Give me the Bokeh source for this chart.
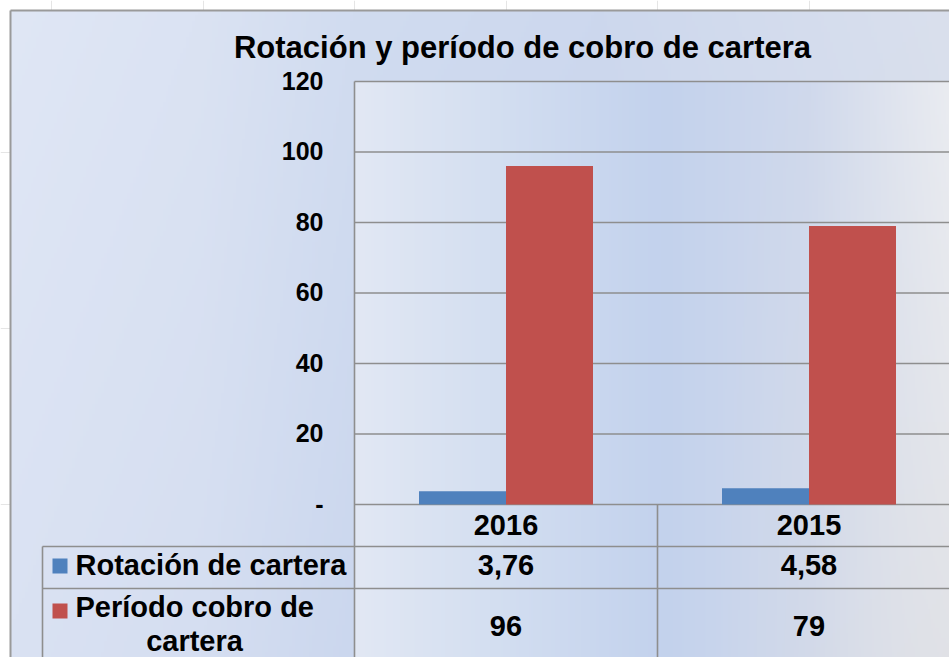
import numpy as np
from bokeh.plotting import figure
from bokeh.models import Range1d
from bokeh.core.properties import value
from bokeh.embed import file_html
from bokeh.resources import INLINE

# ---------------- data ----------------
title = "Rotación y período de cobro de cartera"
categories = ["2016", "2015"]
series_names = ["Rotación de cartera", "Período cobro de cartera"]
rotacion = [3.76, 4.58]
periodo = [96, 79]
rotacion_labels = ["3,76", "4,58"]
periodo_labels = ["96", "79"]
y_ticks = [0, 20, 40, 60, 80, 100, 120]
y_tick_labels = ["-", "20", "40", "60", "80", "100", "120"]
series_colors = ["#4f81bd", "#c0504d"]

# ---------------- layout (pixels in figure) ----------------
W, H = 949, 657
X0 = 354           # left edge of plot area
CAT_PX = 303       # width of one category
Y0 = 504           # pixel row of value 0
Y_PX = 423 / 120   # pixels per value unit
TXT_SHIFT = 10     # baseline correction (px)


def fx(px):
    return (px - X0) / CAT_PX


def fy(py):
    return (Y0 - py) / Y_PX


def fyt(py):
    # text baseline position
    return fy(py - TXT_SHIFT)


FONT = value("Liberation Sans")
LINE = "#8e8e8e"

p = figure(width=W, height=H,
           x_range=Range1d(fx(0), fx(W)), y_range=Range1d(fy(H), fy(0)),
           output_backend="svg", toolbar_location=None,
           x_axis_location=None, y_axis_location=None, min_border=0)
p.outline_line_color = None
p.background_fill_color = "white"
p.border_fill_color = "white"


def gradient(xa, xb, ya, yb, fn, nx=320, ny=120):
    xs = np.linspace(xa, xb, nx)
    ys = np.linspace(yb, ya, ny)  # row 0 is bottom
    XX, YY = np.meshgrid(xs, ys)
    r, g, b = fn(XX, YY)
    img = np.empty((ny, nx), dtype=np.uint32)
    v = img.view(dtype=np.uint8).reshape((ny, nx, 4))
    v[..., 0] = np.clip(r, 0, 255)
    v[..., 1] = np.clip(g, 0, 255)
    v[..., 2] = np.clip(b, 0, 255)
    v[..., 3] = 255
    p.image_rgba(image=[img], x=fx(xa), y=fy(yb), dw=fx(xb) - fx(xa), dh=fy(ya) - fy(yb))


def interp_stops(X, stops_x, cols):
    cols = np.array(cols, dtype=float)
    return [np.interp(X, stops_x, cols[:, k]) for k in range(3)]


def chart_bg(X, Y):
    r, g, b = interp_stops(X, [0, 200, 354, 600, 949],
                          [(224, 231, 245), (219, 227, 243), (209, 220, 240), (205, 216, 238), (218, 224, 237)])
    t = Y / H
    return r - 6 * t, g - 5 * t, b - 2 * t


def plot_bg(X, Y):
    r, g, b = interp_stops(X, [354, 490, 660, 810, 949],
                          [(226, 232, 244), (212, 223, 241), (195, 210, 237), (208, 217, 236), (234, 236, 241)])
    t = np.clip((Y - 81) / (H - 81), 0, 1)
    gray = np.clip((X - 710) / 239, 0, 1) * t
    r = r + (218 - r) * gray * 0.6
    g = g + (219 - g) * gray * 0.6
    b = b + (224 - b) * gray * 0.6
    return r, g, b


gradient(10, W, 10, H, chart_bg)
gradient(X0, W, 81, H, plot_bg)

# chart border
p.segment(x0=[fx(10), fx(10)], y0=[fy(10), fy(10)], x1=[fx(10), fx(W)], y1=[fy(H), fy(10)],
          line_color="#9a9a9a", line_width=2)

# gridlines
p.segment(x0=[0] * len(y_ticks), y0=y_ticks, x1=[fx(W)] * len(y_ticks), y1=y_ticks,
          line_color=LINE, line_width=1.6)
# plot left line
p.segment(x0=[0], y0=[max(y_ticks)], x1=[0], y1=[fy(H)], line_color=LINE, line_width=1.6)

# tick labels
p.text(x=[fx(323)] * len(y_ticks), y=[t - (9 - TXT_SHIFT) / Y_PX for t in y_ticks], text=y_tick_labels,
       text_font=FONT, text_font_size="25px", text_font_style="bold", text_color="black",
       text_align="right", text_baseline="alphabetic")

# bars
n = len(categories)
bw = 87 / CAT_PX
centers = [i + 0.5 for i in range(n)]
p.vbar(x=[c - bw / 2 for c in centers], top=rotacion, bottom=0, width=bw,
       fill_color=series_colors[0], line_color=None)
p.vbar(x=[c + bw / 2 for c in centers], top=periodo, bottom=0, width=bw,
       fill_color=series_colors[1], line_color=None)

# title
p.text(x=[fx(522)], y=[fyt(57.3)], text=[title], text_font=FONT, text_font_size="31px",
       text_font_style="bold", text_color="black", text_align="center", text_baseline="alphabetic")

# data table lines
row1_top, row2_top = 546, 588
p.segment(x0=[i for i in range(1, n + 1)], y0=[0] * n, x1=[i for i in range(1, n + 1)], y1=[fy(H)] * n,
          line_color=LINE, line_width=1.6)
p.segment(x0=[fx(42), fx(42), fx(42)], y0=[fy(row1_top), fy(row2_top), fy(row1_top)],
          x1=[fx(W), fx(W), fx(42)], y1=[fy(row1_top), fy(row2_top), fy(H)],
          line_color=LINE, line_width=1.6)

txt = dict(text_font=FONT, text_font_size="29px", text_font_style="bold", text_color="black",
           text_baseline="alphabetic")
p.text(x=centers, y=[fyt(534.3)] * n, text=categories, text_align="center", **txt)
p.text(x=centers, y=[fyt(574.5)] * n, text=rotacion_labels, text_align="center", **txt)
p.text(x=centers, y=[fyt(635)] * n, text=periodo_labels, text_align="center", **txt)

# legend keys
p.quad(left=[fx(52), fx(52)], right=[fx(67), fx(67)],
       top=[fy(558), fy(603)], bottom=[fy(573), fy(618)],
       fill_color=series_colors, line_color=None)

# series names
p.text(x=[fx(75)], y=[fyt(574.5)], text=[series_names[0]], text_align="left", **txt)
words = series_names[1].split(" ")
line_a = " ".join(words[:-1])
line_b = words[-1]
p.text(x=[fx(75)], y=[fyt(616)], text=[line_a], text_align="left", **txt)
p.text(x=[fx(194)], y=[fyt(650)], text=[line_b], text_align="center", **txt)

open("out.html", "w").write(file_html(p, INLINE))
